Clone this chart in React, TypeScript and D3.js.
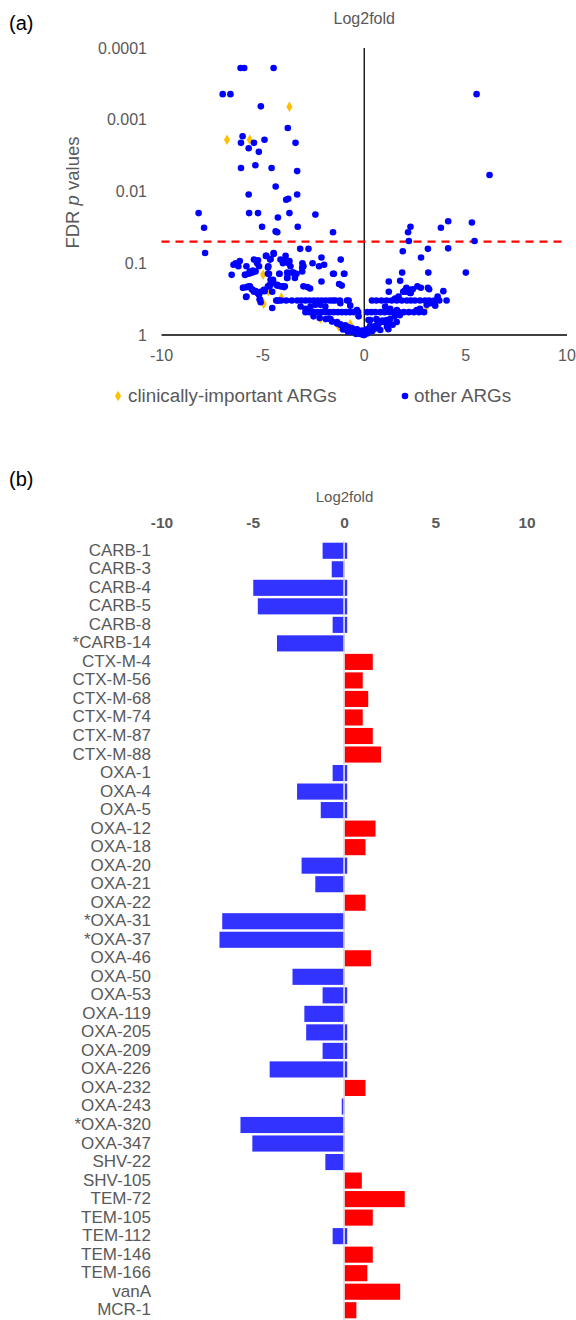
import React from 'react';
import * as d3 from 'd3';

// ---------- Panel (a): volcano plot data [log2fold, FDR p] ----------
const clinicalARGs: [number, number][] = [
  [-3.69, 0.00066], [-6.77, 0.0019], [-5.65, 0.0019], [-4.99, 0.145], [-4.73, 0.245],
  [-4.09, 0.3], [-4.96, 0.37], [-2.16, 0.59], [-0.69, 0.71], [-1.26, 0.76], [3.08, 0.4],
];

const otherARGsUpper: [number, number][] = [
  [-6.1, 0.00019], [-5.92, 0.00019], [-4.47, 0.00019], [-6.98, 0.00044], [-6.6, 0.00044],
  [-5.1, 0.00065], [-3.77, 0.0013], [-6.0, 0.0017], [-6.08, 0.0021], [-5.44, 0.0021],
  [-4.92, 0.0019], [-3.39, 0.0021], [-5.7, 0.0025], [-5.2, 0.0028], [-6.08, 0.0047],
  [-5.37, 0.0043], [-4.57, 0.0047], [-3.31, 0.0052], [-4.37, 0.0085], [-5.7, 0.011],
  [-3.31, 0.011], [-3.85, 0.013], [-3.75, 0.0126], [-8.17, 0.02], [-5.68, 0.02],
  [-5.24, 0.02], [-3.69, 0.02], [-2.41, 0.021], [-4.26, 0.023], [-7.9, 0.032],
  [-5.04, 0.031], [-3.28, 0.031], [-4.37, 0.036], [-4.29, 0.037], [-1.54, 0.037],
  [5.54, 0.00044], [6.18, 0.0059], [4.14, 0.026], [5.31, 0.027], [3.78, 0.032],
  [2.28, 0.031], [2.16, 0.037], [2.2, 0.049], [5.44, 0.049],
];

const otherARGsLeft: [number, number][] = [
  [-7.85, 0.072], [-4.85, 0.079], [-4.47, 0.072], [-3.88, 0.079], [-3.16, 0.063], [-2.75, 0.063],
  [-1.16, 0.089], [-5.44, 0.089], [-5.24, 0.091], [-6.14, 0.093], [-6.34, 0.1], [-6.21, 0.11],
  [-6.45, 0.105], [-5.81, 0.11], [-4.64, 0.089], [-4.13, 0.089], [-3.96, 0.095], [-3.69, 0.093],
  [-3.73, 0.1], [-4.01, 0.1], [-3.05, 0.1], [-3.0, 0.11], [-2.55, 0.1], [-2.23, 0.11],
  [-1.98, 0.105], [-2.11, 0.083], [-5.29, 0.1], [-5.49, 0.126], [-5.65, 0.13], [-5.88, 0.145],
  [-6.54, 0.145], [-4.75, 0.115], [-4.7, 0.14], [-4.62, 0.17], [-4.65, 0.2], [-4.75, 0.21],
  [-4.54, 0.19], [-4.19, 0.14], [-3.8, 0.16], [-3.77, 0.14], [-3.49, 0.135], [-3.34, 0.14],
  [-3.42, 0.16], [-3.06, 0.115], [-3.06, 0.13], [-2.11, 0.18], [-1.54, 0.14], [-1.0, 0.14],
  [-1.24, 0.195], [-1.11, 0.205], [-1.5, 0.14], [-0.98, 0.14], [-3.0, 0.21], [-2.8, 0.215],
  [-2.67, 0.225], [-4.3, 0.205], [-4.13, 0.21], [-3.95, 0.215], [-4.49, 0.185], [-5.98, 0.22],
  [-5.8, 0.215], [-5.64, 0.21], [-5.5, 0.235], [-5.36, 0.245], [-5.19, 0.275], [-5.14, 0.32],
  [-5.83, 0.295], [-4.91, 0.245], [-4.54, 0.42], [-4.34, 0.33], [-3.85, 0.33], [-3.57, 0.33],
  [-3.64, 0.11], [-3.8, 0.135], [-3.8, 0.16], [-3.55, 0.135], [-4.18, 0.14], [-4.5, 0.17],
  [-4.62, 0.195], [-4.67, 0.21], [-4.29, 0.2], [-4.04, 0.21], [-3.92, 0.21], [-4.54, 0.25],
  [-5.19, 0.11], [-5.36, 0.13], [-5.52, 0.135], [-5.69, 0.14], [-5.88, 0.145], [-4.83, 0.079],
  [-4.62, 0.087], [-4.46, 0.074], [-4.73, 0.11], [-4.75, 0.14], [-5.97, 0.22], [-5.69, 0.21],
  [-5.55, 0.23], [-5.44, 0.25], [-5.27, 0.26], [-5.11, 0.25], [-4.95, 0.235], [-5.81, 0.29],
  [-5.16, 0.32], [-5.11, 0.35], [-4.29, 0.33], [-4.21, 0.33],
];

const otherARGsRowLeft: [number, number][] = [
  [-4.1, 0.33], [-3.3, 0.33], [-3.1, 0.33], [-2.9, 0.33], [-2.7, 0.33], [-2.5, 0.33],
  [-2.3, 0.33], [-2.1, 0.33], [-1.9, 0.33], [-1.7, 0.33], [-1.55, 0.33], [-1.2, 0.33],
  [-0.85, 0.33], [-2.9, 0.48], [-2.7, 0.48], [-2.5, 0.48], [-2.3, 0.48], [-2.1, 0.48],
  [-1.9, 0.48], [-1.7, 0.48], [-1.5, 0.48], [-1.3, 0.48], [-1.1, 0.48], [-0.9, 0.48],
  [-0.7, 0.48], [-0.5, 0.48], [-0.3, 0.48], [-3.14, 0.4], [-2.9, 0.43], [-2.65, 0.4],
  [-2.41, 0.38], [-2.16, 0.38], [-1.92, 0.4], [-1.42, 0.33], [-1.18, 0.36], [-0.77, 0.33],
  [-0.69, 0.39], [-0.36, 0.45], [-0.28, 0.55],
];

const otherARGsCentre: [number, number][] = [
  [-1.75, 0.59], [-1.59, 0.65], [-1.34, 0.69], [-1.18, 0.72], [-0.85, 0.85], [-0.36, 0.95],
  [-2.5, 0.55], [-2.2, 0.58], [-1.9, 0.6], [-1.0, 0.78], [-0.7, 0.8], [-0.5, 0.88],
  [-0.3, 0.9], [-0.15, 0.93], [-0.05, 1.0], [-0.4, 0.97], [-0.8, 0.9], [-1.05, 0.84],
  [-0.2, 0.97], [-0.6, 0.9], [-1.67, 0.6], [-1.34, 0.66], [-1.18, 0.71], [-0.93, 0.73],
  [-0.77, 0.78], [-0.61, 0.8], [-0.36, 0.83], [-0.11, 0.87], [0.13, 0.83], [0.38, 0.8],
  [0.54, 0.75], [0.7, 0.71], [0.95, 0.66], [1.11, 0.62], [1.28, 0.6], [0.21, 0.62],
  [0.62, 0.62], [0.95, 0.65], [1.19, 0.69], [0.29, 0.75], [0.54, 0.81], [0.79, 0.85],
  [1.12, 0.77], [1.19, 0.83], [0.05, 0.9], [0.0, 1.0], [0.15, 0.95], [0.4, 0.88],
  [0.1, 0.85], [0.65, 0.72], [1.4, 0.72], [1.6, 0.66], [0.3, 0.62], [0.6, 0.6],
  [0.9, 0.63], [1.2, 0.66], [1.5, 0.55], [1.75, 0.53],
];

const otherARGsRight: [number, number][] = [
  [1.9, 0.068], [3.14, 0.063], [4.14, 0.062], [2.8, 0.083], [1.87, 0.135], [3.16, 0.135],
  [5.01, 0.135], [1.21, 0.18], [1.77, 0.175], [1.21, 0.25], [2.08, 0.22], [2.25, 0.235],
  [2.39, 0.23], [2.62, 0.21], [2.79, 0.22], [2.29, 0.26], [1.92, 0.25], [1.69, 0.29],
  [1.52, 0.31], [3.9, 0.245], [3.62, 0.29], [3.5, 0.39], [3.14, 0.22], [3.2, 0.23],
  [2.0, 0.24], [2.26, 0.24], [2.05, 0.25], [2.26, 0.26],
  [0.38, 0.33], [0.6, 0.33], [0.85, 0.33], [1.1, 0.33], [1.35, 0.33], [1.6, 0.33],
  [1.85, 0.33], [2.1, 0.33], [2.3, 0.33], [2.5, 0.33], [2.75, 0.33], [3.0, 0.33],
  [3.2, 0.33], [3.45, 0.33], [3.7, 0.33], [4.06, 0.33],
  [0.15, 0.48], [0.35, 0.48], [0.55, 0.48], [0.8, 0.48], [1.0, 0.48], [1.25, 0.48],
  [1.45, 0.48], [1.7, 0.48], [1.95, 0.48], [2.2, 0.48], [2.45, 0.48], [2.7, 0.48],
  [2.95, 0.48], [1.03, 0.4], [1.28, 0.43], [1.61, 0.45], [2.59, 0.45], [2.75, 0.43],
  [3.08, 0.38], [3.3, 0.36],
];

const yTickValues = [0.0001, 0.001, 0.01, 0.1, 1];
const yTickLabels = ['0.0001', '0.001', '0.01', '0.1', '1'];
const xTickValues = [-10, -5, 0, 5, 10];
const fdrThreshold = 0.05;

// ---------- Panel (b): bar chart data ----------
const genes = [
  'CARB-1', 'CARB-3', 'CARB-4', 'CARB-5', 'CARB-8', '*CARB-14',
  'CTX-M-4', 'CTX-M-56', 'CTX-M-68', 'CTX-M-74', 'CTX-M-87', 'CTX-M-88',
  'OXA-1', 'OXA-4', 'OXA-5', 'OXA-12', 'OXA-18', 'OXA-20', 'OXA-21', 'OXA-22',
  '*OXA-31', '*OXA-37', 'OXA-46', 'OXA-50', 'OXA-53', 'OXA-119', 'OXA-205', 'OXA-209',
  'OXA-226', 'OXA-232', 'OXA-243', '*OXA-320', 'OXA-347', 'SHV-22', 'SHV-105',
  'TEM-72', 'TEM-105', 'TEM-112', 'TEM-146', 'TEM-166', 'vanA', 'MCR-1',
];
const geneLog2fold = [
  -1.2, -0.7, -5.0, -4.75, -0.65, -3.7,
  1.55, 1.0, 1.3, 1.0, 1.55, 2.0,
  -0.65, -2.6, -1.3, 1.7, 1.15, -2.35, -1.6, 1.15,
  -6.7, -6.85, 1.45, -2.85, -1.2, -2.2, -2.1, -1.2,
  -4.1, 1.15, -0.15, -5.7, -5.05, -1.05, 0.95,
  3.3, 1.55, -0.65, 1.55, 1.25, 3.05, 0.65,
];
const sliverGenes = [
  'CARB-1', 'CARB-4', 'CARB-5', 'CARB-8', 'OXA-1', 'OXA-4', 'OXA-5', 'OXA-20',
  'OXA-53', 'OXA-205', 'OXA-209', 'OXA-226', 'TEM-112',
];
const sliverValue = 0.12;

const FONT = "'Liberation Sans', Arial, sans-serif";
const GREY = '#595959';
const BLUE_DOT = '#0000FF';
const ORANGE = '#FFC000';
const BAR_BLUE = '#3333FF';
const BAR_RED = '#FF0000';

export default function App() {
  const W = 576;
  const H = 1320;

  // panel (a)
  const xA = d3.scaleLinear().domain([-10, 10]).range([161.5, 567]);
  const yA = d3.scaleLog().domain([1e-4, 1]).range([48, 335]);
  const diamond = d3.symbol().type(d3.symbolDiamond).size(32)() as string;
  const otherARGs = [
    ...otherARGsUpper, ...otherARGsLeft, ...otherARGsRowLeft, ...otherARGsCentre, ...otherARGsRight,
  ];

  // panel (b)
  const xB = d3.scaleLinear().domain([-10, 10]).range([162, 527]);
  const yB = d3.scaleBand<string>().domain(genes).range([541.5, 1319.5]).paddingInner(0.13).paddingOuter(0.065);

  return (
    <svg
      width={W}
      height={H}
      viewBox={`0 0 ${W} ${H}`}
      style={{ position: 'absolute', left: 0, top: 0, background: '#fff' }}
      fontFamily={FONT}
    >
      <rect x={0} y={0} width={W} height={H} fill="#fff" />
      {/* ---------- (a) ---------- */}
      <text x={9} y={30} fontSize={20} fill="#000">(a)</text>
      <text x={xA(0)} y={24} fontSize={16} fill={GREY} textAnchor="middle">Log2fold</text>
      <text
        transform={`translate(79, ${(yA(1e-4) + yA(1)) / 2 + 1}) rotate(-90)`}
        fontSize={18.5}
        fill={GREY}
        textAnchor="middle"
      >
        FDR <tspan fontStyle="italic">p</tspan> values
      </text>
      {yTickValues.map((v, i) => (
        <text key={'yt' + i} x={147} y={yA(v) + 5.5} fontSize={16} fill={GREY} textAnchor="end">
          {yTickLabels[i]}
        </text>
      ))}
      {xTickValues.map((v) => (
        <text key={'xt' + v} x={xA(v)} y={361} fontSize={16} fill={GREY} textAnchor="middle">
          {v}
        </text>
      ))}
      <line x1={xA(-10)} x2={xA(10)} y1={yA(1)} y2={yA(1)} stroke="#000" strokeWidth={1.3} />
      <line x1={xA(0)} x2={xA(0)} y1={yA(1e-4)} y2={yA(1)} stroke="#000" strokeWidth={1.3} />
      <line
        x1={xA(-10)}
        x2={xA(10)}
        y1={yA(fdrThreshold)}
        y2={yA(fdrThreshold)}
        stroke="#FF0000"
        strokeWidth={2.2}
        strokeDasharray="8,6"
      />
      {clinicalARGs.map((d, i) => (
        <path key={'c' + i} d={diamond} transform={`translate(${xA(d[0])},${yA(d[1])})`} fill={ORANGE} />
      ))}
      {otherARGs.map((d, i) => (
        <circle key={'o' + i} cx={xA(d[0])} cy={yA(d[1])} r={3.3} fill={BLUE_DOT} />
      ))}
      {/* legend */}
      <path d={diamond} transform="translate(118,396)" fill={ORANGE} />
      <text x={128} y={402} fontSize={18.8} fill={GREY}>clinically-important ARGs</text>
      <circle cx={405} cy={396} r={3.3} fill={BLUE_DOT} />
      <text x={414} y={402} fontSize={18.8} fill={GREY}>other ARGs</text>

      {/* ---------- (b) ---------- */}
      <text x={9} y={486} fontSize={20} fill="#000">(b)</text>
      <text x={xB(0)} y={502} fontSize={15} fill={GREY} textAnchor="middle">Log2fold</text>
      {xTickValues.map((v) => (
        <text key={'bt' + v} x={xB(v)} y={528} fontSize={15.5} fontWeight="bold" fill={GREY} textAnchor="middle">
          {v}
        </text>
      ))}
      {genes.map((g, i) => {
        const v = geneLog2fold[i];
        const y0 = yB(g) as number;
        const x0 = Math.min(xB(0), xB(v));
        const w = Math.abs(xB(v) - xB(0));
        return (
          <g key={'bar' + g}>
            <rect x={x0} y={y0} width={w} height={yB.bandwidth()} fill={v < 0 ? BAR_BLUE : BAR_RED} />
            <text x={151} y={y0 + yB.bandwidth() / 2 + 5} fontSize={17} fill={GREY} textAnchor="end">
              {g}
            </text>
          </g>
        );
      })}
      <line x1={xB(0) - 0.5} x2={xB(0) - 0.5} y1={541} y2={H} stroke="#D9D9D9" strokeWidth={1.5} />
      {genes.map((g) =>
        sliverGenes.includes(g) ? (
          <rect
            key={'sl' + g}
            x={xB(0) + 0.5}
            y={yB(g) as number}
            width={xB(sliverValue) - xB(0)}
            height={yB.bandwidth()}
            fill={BAR_BLUE}
          />
        ) : null
      )}
    </svg>
  );
}
